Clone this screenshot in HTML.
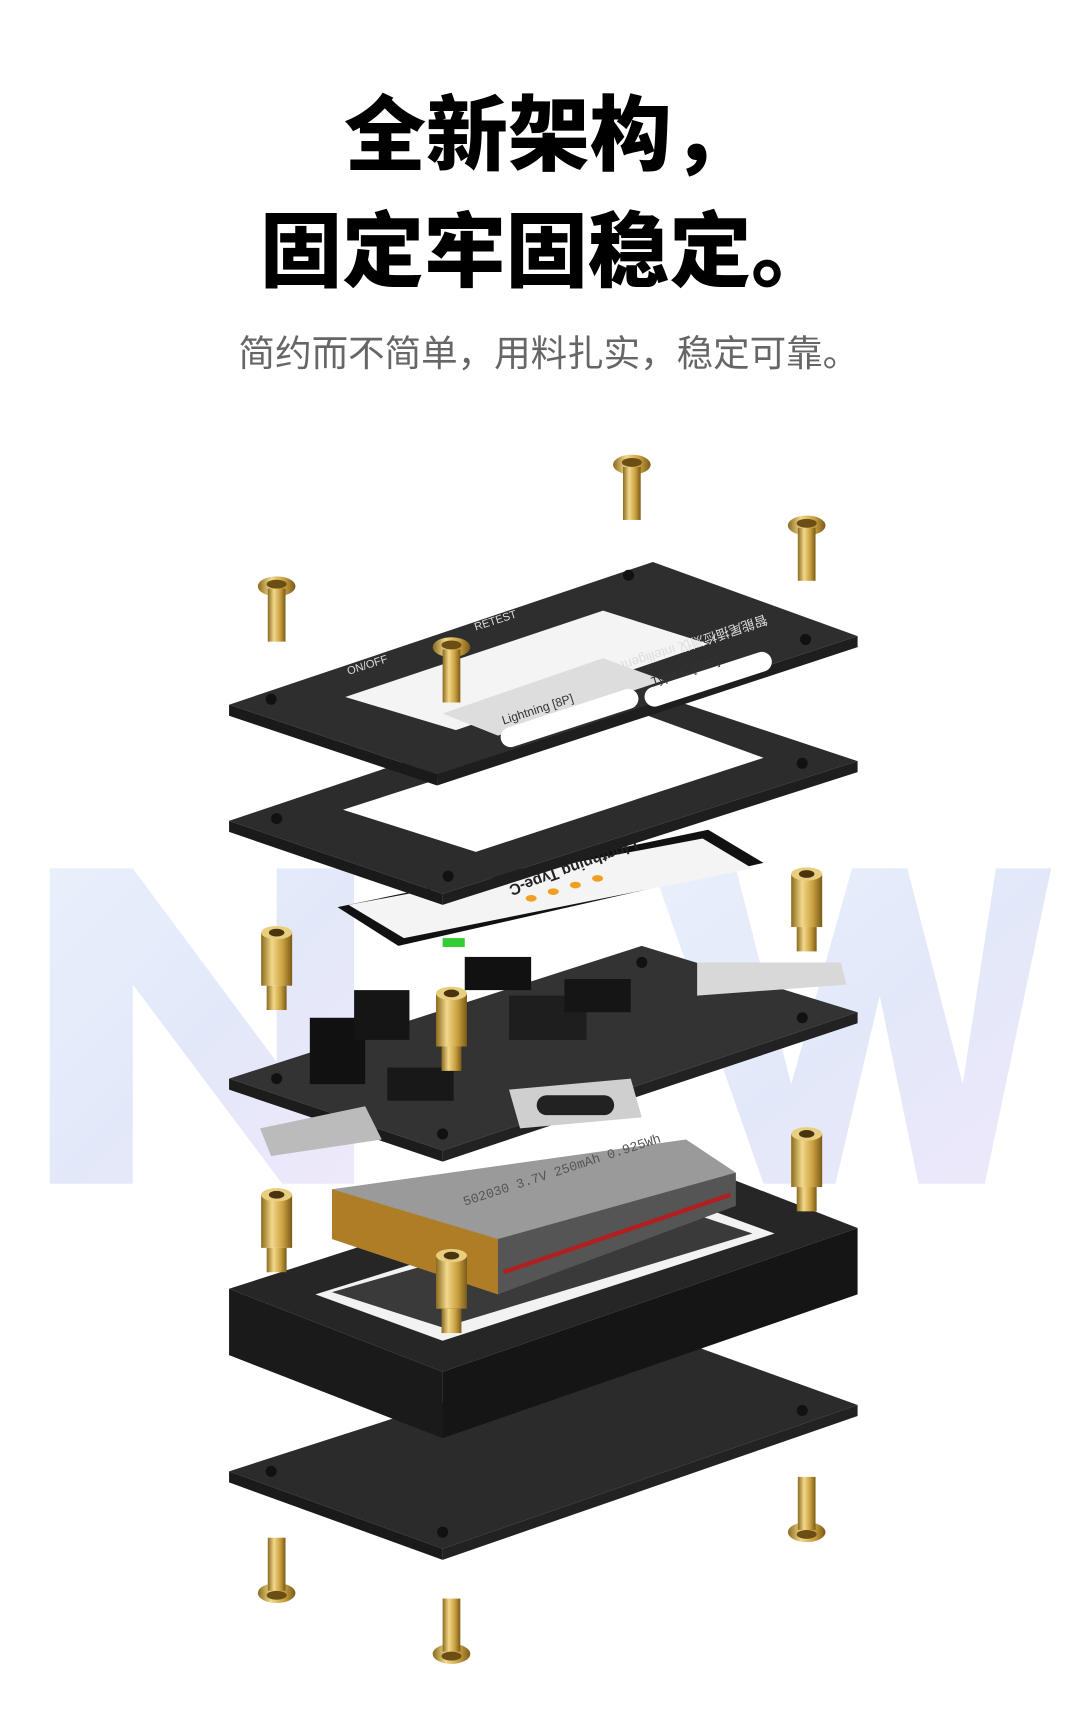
<!DOCTYPE html>
<html><head><meta charset="utf-8"><style>
html,body{margin:0;padding:0;background:#fff;}
svg{display:block;}
</style></head><body>
<svg width="1080" height="1728" viewBox="0 0 976 1562" preserveAspectRatio="none" xmlns="http://www.w3.org/2000/svg">
<defs>
<linearGradient id="ng" x1="0" y1="0" x2="1" y2="1">
<stop offset="0" stop-color="#e6eefb"/><stop offset="0.5" stop-color="#dfe6f8"/><stop offset="1" stop-color="#ece6fa"/></linearGradient>
<linearGradient id="gold" x1="0" y1="0" x2="1" y2="0">
<stop offset="0" stop-color="#8a6a1e"/><stop offset="0.35" stop-color="#f2d88a"/><stop offset="0.7" stop-color="#c9a040"/><stop offset="1" stop-color="#7a5a18"/></linearGradient>
<g id="screw"><ellipse cx="0" cy="0" rx="17" ry="9" fill="url(#gold)"/><rect x="-8" y="2" width="16" height="48" fill="url(#gold)"/><ellipse cx="0" cy="-2" rx="9" ry="4" fill="#6a4e14"/></g>
<g id="stand"><rect x="-14" y="0" width="28" height="48" fill="url(#gold)"/><ellipse cx="0" cy="0" rx="14" ry="6" fill="#e8cf80"/><ellipse cx="0" cy="0" rx="7" ry="3.5" fill="#4a3410"/><rect x="-9" y="48" width="18" height="22" fill="url(#gold)"/></g>
</defs>
<text x="496" y="148" text-anchor="middle" font-family="'Liberation Sans','Noto Sans CJK SC',sans-serif" font-weight="900" font-size="74" fill="#000">全新架构，</text>
<text x="494" y="253" text-anchor="middle" font-family="'Liberation Sans','Noto Sans CJK SC',sans-serif" font-weight="900" font-size="74" fill="#000">固定牢固稳定。</text>
<text x="496" y="331" text-anchor="middle" font-family="'Liberation Sans','Noto Sans CJK SC',sans-serif" font-size="33" fill="#666">简约而不简单，用料扎实，稳定可靠。</text>

<g fill="url(#ng)" opacity="0.9">
<polygon points="45,785 120,785 250,960 250,785 320,785 320,1070 255,1070 120,890 120,1070 45,1070"/>
<polygon points="590,785 665,785 715,980 770,785 820,785 870,980 900,785 950,785 890,1070 830,1070 795,900 755,1070 690,1070"/>
</g>

<polygon points="207,1330 595,1205 775,1270 400,1400" fill="#2b2b2b"/>
<polygon points="207,1330 400,1400 400,1410 207,1340" fill="#1a1a1a"/>
<polygon points="400,1400 775,1270 775,1280 400,1410" fill="#222"/>
<circle cx="245" cy="1330" r="5" fill="#111"/><circle cx="725" cy="1275" r="5" fill="#111"/><circle cx="400" cy="1385" r="5" fill="#111"/>

<polygon points="207,1165 595,1040 775,1110 400,1240" fill="#262626"/>
<polygon points="207,1165 400,1240 400,1300 207,1225" fill="#1a1a1a"/>
<polygon points="400,1240 775,1110 775,1170 400,1300" fill="#151515"/>
<polygon points="285,1170 590,1075 700,1115 400,1212" fill="#f2f2f2"/>
<polygon points="300,1168 590,1085 680,1115 400,1200" fill="#3a3a3a"/>

<polygon points="300,1075 620,1030 665,1060 450,1170 300,1120" fill="#9a9a9a"/>
<polygon points="300,1075 450,1120 450,1170 300,1120" fill="#b07a18" opacity="0.9"/>
<polygon points="450,1120 665,1060 665,1090 450,1170" fill="#555"/>
<path d="M455,1150 L660,1080" stroke="#b02020" stroke-width="4"/>
<text x="420" y="1090" font-family="'Liberation Mono',monospace" font-size="12" fill="#555" transform="rotate(-18 420 1090)">502030 3.7V 250mAh 0.925Wh</text>

<polygon points="207,975 580,855 775,915 400,1040" fill="#333"/>
<polygon points="207,975 400,1040 400,1050 207,985" fill="#1c1c1c"/>
<polygon points="400,1040 775,915 775,925 400,1050" fill="#222"/>
<rect x="280" y="920" width="50" height="60" fill="#111"/><rect x="320" y="895" width="50" height="45" fill="#151515"/>
<rect x="350" y="965" width="60" height="30" fill="#181818"/><rect x="460" y="900" width="70" height="40" fill="#1e1e1e"/>
<rect x="510" y="885" width="60" height="30" fill="#151515"/>
<path d="M630,870 L760,870 L765,890 L630,900 Z" fill="#d8d8d8"/>
<path d="M460,985 L570,975 L580,1010 L470,1020 Z" fill="#cfcfcf"/>
<rect x="485" y="990" width="70" height="18" rx="9" fill="#222"/>
<path d="M235,1020 L330,1000 L345,1030 L245,1045 Z" fill="#bbb"/>
<circle cx="250" cy="975" r="5" fill="#111"/><circle cx="400" cy="1025" r="5" fill="#111"/><circle cx="725" cy="920" r="5" fill="#111"/><circle cx="580" cy="870" r="5" fill="#111"/>

<polygon points="305,820 640,750 690,780 360,855" fill="#111"/>
<polygon points="315,818 635,758 680,785 365,848" fill="#f4f4f4"/>
<rect x="420" y="865" width="60" height="30" fill="#111"/>
<text x="455" y="820" font-family="'Liberation Sans',sans-serif" font-weight="bold" font-size="14" fill="#222" transform="rotate(160 520 800)">Lingthning  Type-C</text>
<rect x="400" y="848" width="20" height="8" fill="#3c3"/>
<g fill="#f0a020"><ellipse cx="480" cy="812" rx="5" ry="3"/><ellipse cx="500" cy="806" rx="5" ry="3"/><ellipse cx="520" cy="800" rx="5" ry="3"/><ellipse cx="540" cy="794" rx="5" ry="3"/></g>

<polygon points="207,742 570,620 775,688 400,808" fill="#2c2c2c"/>
<polygon points="207,742 400,808 400,818 207,752" fill="#1a1a1a"/>
<polygon points="400,808 775,688 775,698 400,818" fill="#1e1e1e"/>
<polygon points="310,732 580,645 690,685 430,770" fill="#fff"/>
<circle cx="250" cy="740" r="5" fill="#111"/><circle cx="405" cy="792" r="5" fill="#111"/><circle cx="725" cy="690" r="5" fill="#111"/>

<polygon points="207,637 590,508 775,575 395,700" fill="#2e2e2e"/>
<polygon points="207,637 395,700 395,710 207,647" fill="#1a1a1a"/>
<polygon points="395,700 775,575 775,585 395,710" fill="#1e1e1e"/>
<polygon points="312,630 545,552 640,582 412,660" fill="#f4f4f4"/>
<polygon points="400,645 545,595 600,615 450,665" fill="#ddd"/>
<rect x="450" y="640" width="130" height="18" rx="9" fill="#fff" transform="rotate(-18 515 650)"/>
<rect x="580" y="605" width="120" height="18" rx="9" fill="#fff" transform="rotate(-18 640 614)"/>
<text x="455" y="655" font-family="'Liberation Sans',sans-serif" font-size="11" fill="#333" transform="rotate(-18 455 655)">Lightning [8P]</text>
<text x="590" y="620" font-family="'Liberation Sans',sans-serif" font-size="11" fill="#333" transform="rotate(-18 590 620)">Type-C [24P]</text>
<text x="315" y="610" font-family="'Liberation Sans',sans-serif" font-size="10" fill="#ddd" transform="rotate(-18 315 610)">ON/OFF</text>
<text x="430" y="570" font-family="'Liberation Sans',sans-serif" font-size="10" fill="#ddd" transform="rotate(-18 430 570)">RETEST</text>
<text x="570" y="545" font-family="'Liberation Sans','Noto Sans CJK SC',sans-serif" font-size="12" fill="#ddd" transform="rotate(162 630 560)">智能尾插检测仪 intelligent tail plug detector</text>
<circle cx="245" cy="632" r="5" fill="#111"/><circle cx="568" cy="520" r="5" fill="#111"/><circle cx="728" cy="578" r="5" fill="#111"/>

<use href="#screw" x="571" y="420"/><use href="#screw" x="729" y="475"/><use href="#screw" x="250" y="530"/><use href="#screw" x="408" y="585"/>
<use href="#stand" x="250" y="843"/><use href="#stand" x="729" y="790"/><use href="#stand" x="408" y="898"/>
<use href="#stand" x="250" y="1080"/><use href="#stand" x="729" y="1025"/><use href="#stand" x="408" y="1135"/>
<g transform="translate(729,1385) scale(1,-1)"><use href="#screw"/></g>
<g transform="translate(250,1440) scale(1,-1)"><use href="#screw"/></g>
<g transform="translate(408,1495) scale(1,-1)"><use href="#screw"/></g>
</svg>
</body></html>
